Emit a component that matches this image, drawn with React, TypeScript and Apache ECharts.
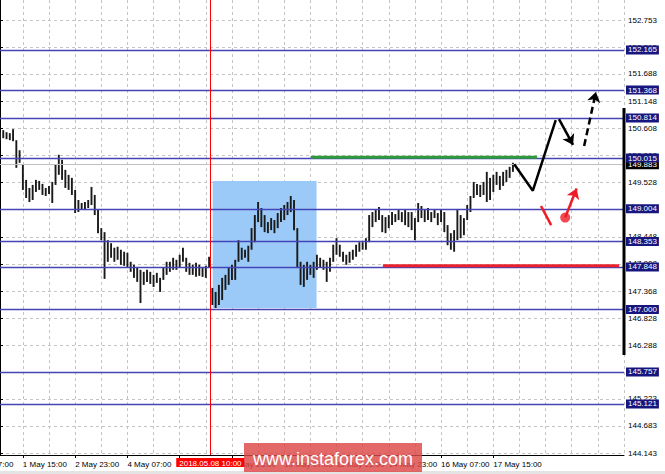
import React, { useEffect, useRef } from 'react';
import * as echarts from 'echarts';

// Bar highs / lows (one bar per slot, 2h bars)
const highs = [
  150.53, 150.57, 150.53, 150.51, 150.59, 150.37, 150.17, 149.88, 149.58, 149.42,
  149.48, 149.58, 149.56, 149.50, 149.42, 149.46, 149.54, 149.88, 150.08, 149.98,
  149.78, 149.68, 149.62, 149.38, 149.18, 149.12, 149.14, 149.18, 149.44, 149.28,
  148.98, 148.62, 148.54, 148.38, 148.32, 148.23, 148.25, 148.19, 148.15, 148.13,
  147.95, 147.89, 147.83, 147.79, 147.75, 147.79, 147.75, 147.69, 147.73, 147.63,
  147.83, 147.95, 147.95, 148.03, 147.99, 148.09, 148.23, 148.03, 147.93, 147.89,
  147.93, 147.89, 147.83, 147.87, 148.05, 147.43, 147.35, 147.49, 147.63, 147.69,
  147.83, 147.89, 147.99, 148.38, 148.23, 148.19, 148.27, 148.62, 148.88, 149.14,
  149.02, 148.88, 148.74, 148.82, 148.78, 148.92, 149.02, 149.08, 149.14, 149.26,
  149.18, 148.62, 147.95, 147.89, 147.95, 147.89, 147.95, 148.09, 148.03, 147.99,
  147.95, 148.03, 148.29, 148.42, 148.29, 148.15, 148.09, 148.15, 148.19, 148.29,
  148.34, 148.34, 148.42, 148.88, 148.94, 148.98, 149.04, 148.88, 148.84, 148.88,
  148.94, 148.90, 148.98, 148.94, 148.98, 148.94, 148.94, 148.82, 149.12, 149.06,
  148.98, 149.02, 148.94, 148.98, 148.92, 148.98, 148.94, 148.68, 148.52, 148.58,
  148.98, 148.88, 148.82, 149.08, 149.26, 149.54, 149.50, 149.48, 149.54, 149.74,
  149.62, 149.68, 149.74, 149.66, 149.74, 149.78, 149.84, 149.92,
];
const lows = [
  150.37, 150.41, 150.39, 150.37, 150.35, 149.82, 149.92, 149.38, 149.22, 149.14,
  149.18, 149.34, 149.38, 149.28, 149.26, 149.30, 149.12, 149.48, 149.68, 149.58,
  149.42, 149.38, 149.28, 148.92, 148.94, 148.98, 148.98, 149.02, 149.08, 148.88,
  148.52, 148.38, 147.61, 147.95, 148.03, 147.95, 147.99, 147.89, 147.87, 147.83,
  147.75, 147.63, 147.55, 147.13, 147.49, 147.55, 147.51, 147.45, 147.53, 147.35,
  147.59, 147.69, 147.75, 147.79, 147.79, 147.83, 147.95, 147.75, 147.69, 147.69,
  147.65, 147.67, 147.65, 147.63, 147.83, 147.09, 147.03, 147.09, 147.19, 147.39,
  147.49, 147.59, 147.59, 147.95, 147.99, 148.03, 147.95, 148.19, 148.34, 148.74,
  148.64, 148.54, 148.52, 148.58, 148.52, 148.62, 148.74, 148.78, 148.88, 148.94,
  148.58, 147.83, 147.49, 147.45, 147.59, 147.69, 147.63, 147.79, 147.83, 147.79,
  147.55, 147.75, 147.95, 148.09, 148.05, 147.95, 147.89, 147.93, 147.99, 148.05,
  148.15, 148.19, 148.19, 148.34, 148.64, 148.74, 148.78, 148.54, 148.52, 148.62,
  148.68, 148.74, 148.78, 148.74, 148.68, 148.64, 148.58, 148.38, 148.74, 148.82,
  148.74, 148.78, 148.74, 148.82, 148.68, 148.74, 148.54, 148.28, 148.19, 148.15,
  148.38, 148.42, 148.48, 148.78, 148.94, 149.22, 149.28, 149.24, 149.28, 149.14,
  149.18, 149.34, 149.48, 149.38, 149.46, 149.54, 149.62, 149.74,
];

const levelPrices = [152.165, 151.368, 150.814, 150.015, 149.004, 148.353, 147.848, 147.0, 145.757, 145.121];
const gridTickPrices = [
  152.753, 152.213, 151.688, 151.148, 150.608, 150.068, 149.528, 148.988, 148.448,
  147.908, 147.368, 146.828, 146.288, 145.748, 145.223, 144.683, 144.143,
];
const bidPrice = 149.883;
// '' = label hidden under the vertical-line date box in the reference
const xTickLabels = [
  '1 May 15:00', '2 May 23:00', '4 May 07:00', '', '8 May 23:00',
  '10 May 07:00', '11 May 15:00', '14 May 23:00', '16 May 07:00', '17 May 15:00',
];
const firstCutLabel = '30 Apr 07:00';
const slotCount = 192;
const xTickStart = 7;
const xTickStep = 16;
const xGridStep = 8;

const vLineIndex = 64.4;
const vLineLabel = '2018.05.08 10:00';
const boxCorners = [[65.1, 149.56], [96.9, 147.03]];
const greenLevel = [[95.2, 150.03], [164.4, 150.03]];
const redLevel = [[117.2, 147.87], [189.5, 147.87]];
const forecastPath = [[157.4, 149.89], [163.1, 149.365], [170.1, 150.77]];
const forecastDown = [[171.1, 150.79], [175.4, 150.275]];
const forecastUp = [[178.8, 150.255], [182.4, 151.33]];
const redStroke = [[165.6, 149.06], [168.7, 148.68]];
const redDot = [173.0, 148.83];
const redArrowEnd = [176.5, 149.41];

const FONT = '"Liberation Sans", Arial, sans-serif';
const NAVY = '#4444b6';
const NAVY_BOX = '#16167e';

export default function App() {
  const ref = useRef<HTMLDivElement>(null);
  useEffect(() => {
    if (!ref.current) return;
    const chart = echarts.init(ref.current, undefined, { renderer: 'svg' });
    const categories = Array.from({ length: slotCount }, (_, i) => String(i));
    const isTickIdx = (i: number) =>
      i >= xTickStart && (i - xTickStart) % xTickStep === 0 && (i - xTickStart) / xTickStep < xTickLabels.length;
    const isLabelIdx = (i: number) => isTickIdx(i) && xTickLabels[(i - xTickStart) / xTickStep] !== '';
    const isGridIdx = (i: number) => (i - xTickStart) % xGridStep === 0;
    const bars = highs.map((h, i) => [i, lows[i], h]);

    chart.setOption({
      animation: false,
      backgroundColor: '#ffffff',
      textStyle: { fontFamily: FONT },
      grid: { left: 0, right: 41, top: 0, bottom: 19, containLabel: false },
      xAxis: [
        {
          type: 'category',
          data: categories,
          boundaryGap: false,
          axisLine: { show: true, lineStyle: { color: '#000', width: 1 } },
          axisTick: { show: true, interval: (i: number) => isTickIdx(i), length: 3, lineStyle: { color: '#000' } },
          axisLabel: {
            show: true,
            interval: (i: number) => isLabelIdx(i),
            formatter: (v: string) => {
              const i = Number(v);
              return isLabelIdx(i) ? xTickLabels[(i - xTickStart) / xTickStep] : '';
            },
            align: 'left',
            fontSize: 8,
            fontFamily: FONT,
            color: '#000',
            margin: 5,
          },
          splitLine: { show: true, interval: (i: number) => isGridIdx(i), lineStyle: { color: '#c4c4c4', type: [3, 3], width: 1 } },
        },
        { type: 'value', min: 0, max: slotCount - 1, show: false },
      ],
      yAxis: {
        type: 'value',
        position: 'right',
        min: 144.105,
        max: 153.16,
        scale: true,
        axisLine: { show: true, lineStyle: { color: '#000', width: 1 } },
        axisTick: { show: true, customValues: gridTickPrices, length: 3, lineStyle: { color: '#000' } },
        axisLabel: {
          show: true,
          customValues: gridTickPrices,
          formatter: (v: number) => v.toFixed(3),
          fontSize: 8,
          fontFamily: FONT,
          color: '#000',
          margin: 4,
        },
        splitLine: { show: true, lineStyle: { color: '#c4c4c4', type: [3, 3], width: 1 } },
      },
      series: [
        {
          name: 'zone',
          type: 'line',
          xAxisIndex: 1,
          data: [],
          z: 1,
          markArea: {
            silent: true,
            itemStyle: { color: '#9bcaf8', opacity: 1 },
            data: [[{ coord: boxCorners[0] }, { coord: boxCorners[1] }]],
          },
        },
        {
          name: 'bid',
          type: 'line',
          xAxisIndex: 1,
          data: [],
          z: 2,
          markLine: {
            silent: true,
            symbol: 'none',
            precision: 3,
            lineStyle: { color: '#c0c0c0', width: 1, type: 'solid' },
            label: {
              show: true,
              position: 'end',
              distance: 2,
              formatter: '{b}',
              backgroundColor: '#000',
              color: '#fff',
              fontSize: 8,
              fontFamily: FONT,
              padding: [1, 2, 0, 2],
            },
            data: [{ yAxis: bidPrice, name: bidPrice.toFixed(3) }],
          },
        },
        {
          name: 'bars',
          type: 'custom',
          xAxisIndex: 0,
          z: 3,
          encode: { x: 0, y: [1, 2] },
          data: bars,
          renderItem: (_params: any, api: any) => {
            const i = api.value(0);
            const lo = api.coord([i, api.value(1)]);
            const hi = api.coord([i, api.value(2)]);
            return {
              type: 'line',
              shape: { x1: lo[0], y1: lo[1], x2: hi[0], y2: hi[1] },
              style: { stroke: '#1a1a1a', lineWidth: 1.9 },
            };
          },
        },
        {
          name: 'levels',
          type: 'line',
          xAxisIndex: 1,
          data: [],
          z: 4,
          markLine: {
            silent: true,
            symbol: 'none',
            precision: 3,
            lineStyle: { color: NAVY, width: 1.3, type: 'solid' },
            label: {
              show: true,
              position: 'end',
              distance: 2,
              formatter: '{b}',
              backgroundColor: NAVY_BOX,
              color: '#fff',
              fontSize: 8,
              fontFamily: FONT,
              padding: [1, 2, 0, 2],
            },
            data: levelPrices.map((v) => ({ yAxis: v, name: v.toFixed(3) })),
          },
        },
        {
          name: 'vline',
          type: 'line',
          xAxisIndex: 1,
          data: [],
          z: 5,
          markLine: {
            silent: true,
            symbol: 'none',
            lineStyle: { color: '#ff0000', width: 1, type: 'solid' },
            label: {
              show: true,
              position: 'start',
              distance: 3,
              formatter: vLineLabel,
              backgroundColor: '#ff0000',
              color: '#fff',
              fontSize: 8,
              fontFamily: FONT,
              padding: [1, 3, 0, 3],
            },
            data: [{ xAxis: vLineIndex }],
          },
        },
        {
          name: 'green',
          type: 'line',
          xAxisIndex: 1,
          data: greenLevel,
          symbol: 'none',
          z: 6,
          lineStyle: { color: '#2f9a3c', width: 3 },
        },
        {
          name: 'red',
          type: 'line',
          xAxisIndex: 1,
          data: redLevel,
          symbol: 'none',
          z: 6,
          lineStyle: { color: '#e8232d', width: 3 },
        },
        {
          name: 'path',
          type: 'line',
          xAxisIndex: 1,
          data: forecastPath,
          symbol: 'none',
          z: 7,
          lineStyle: { color: '#000', width: 2.5 },
          markLine: {
            silent: true,
            symbol: ['none', 'arrow'],
            symbolSize: 10,
            label: { show: false },
            data: [
              [
                { coord: forecastDown[0], lineStyle: { color: '#000', width: 2.5, type: 'solid' } },
                { coord: forecastDown[1] },
              ],
              [
                { coord: forecastUp[0], lineStyle: { color: '#000', width: 2.5, type: [7, 4] } },
                { coord: forecastUp[1] },
              ],
              [
                { coord: redDot, lineStyle: { color: '#ee1c25', width: 2.5, type: 'solid' } },
                { coord: redArrowEnd },
              ],
            ],
          },
        },
        {
          name: 'redStroke',
          type: 'line',
          xAxisIndex: 1,
          data: redStroke,
          symbol: 'none',
          z: 7,
          lineStyle: { color: '#ee1c25', width: 2.5 },
        },
        {
          name: 'redDot',
          type: 'scatter',
          xAxisIndex: 1,
          data: [redDot],
          symbolSize: 10,
          z: 8,
          itemStyle: { color: '#ee1c25' },
        },
      ],
      graphic: [
        {
          type: 'rect',
          z: 50,
          shape: { x: 0, y: 471, width: 665, height: 3 },
          style: { fill: '#e4e4e4' },
        },
        {
          type: 'rect',
          z: 50,
          shape: { x: 622.5, y: 108, width: 3, height: 247 },
          style: { fill: '#000' },
        },
        {
          type: 'text',
          z: 50,
          style: { text: firstCutLabel, x: -32, y: 464, verticalAlign: 'middle', fill: '#000', font: `8px ${FONT}` },
        },
        {
          type: 'rect',
          z: 100,
          shape: { x: 244, y: 443, width: 178, height: 29 },
          style: { fill: 'rgba(221,72,72,0.82)' },
        },
        {
          type: 'text',
          z: 101,
          style: {
            text: 'www.instaforex.com',
            x: 333,
            y: 459,
            align: 'center',
            verticalAlign: 'middle',
            fill: '#fff',
            font: `18px ${FONT}`,
          },
        },
      ],
    });
    return () => chart.dispose();
  }, []);
  return (
    <div
      ref={ref}
      style={{ position: 'absolute', left: 0, top: 0, width: 665, height: 474, background: '#fff' }}
    />
  );
}
